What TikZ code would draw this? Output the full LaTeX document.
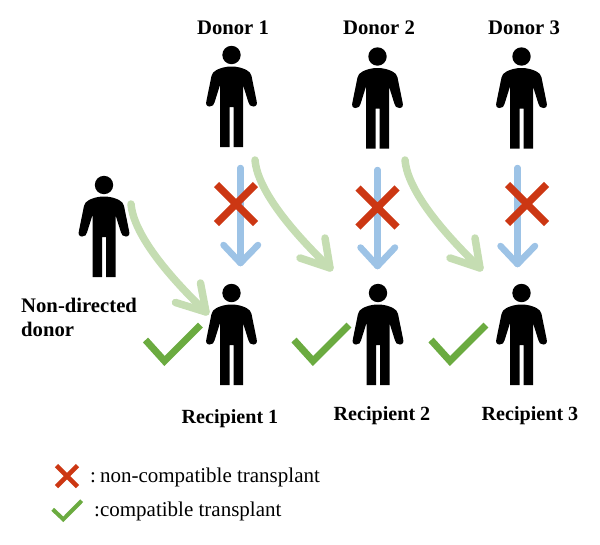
\documentclass[tikz,border=0pt]{standalone}
\usepackage{fontspec}
\setmainfont{Liberation Serif}
\definecolor{crossred}{HTML}{CC3713}
\definecolor{tickgreen}{HTML}{6BAB40}
\definecolor{bluearrow}{HTML}{9DC3E6}
\definecolor{greenarrow}{HTML}{C5DDB2}
\tikzset{
  x=1pt,y=-1pt,
  pics/person/.style={code={
    \fill[black] (0,0) circle[radius=9.2];
    \fill[black] (0,11.5) .. controls (-6,11.5) and (-11,13) .. (-15,15)
      .. controls (-18,16.5) and (-19,18) .. (-20,21)
      -- (-25,45.5) .. controls (-26,49) and (-25,51.5) .. (-22,51.5)
      .. controls (-19,51.5) and (-17.5,50) .. (-17,47.5)
      -- (-11.5,30) -- (-11.5,92) -- (-2,92) -- (-2,52) -- (2,52) -- (2,92) -- (11.5,92) -- (11.5,30)
      -- (17,47.5) .. controls (17.5,50) and (19,51.5) .. (22,51.5)
      .. controls (25,51.5) and (26,49) .. (25,45.5)
      -- (20,21) .. controls (19,18) and (18,16.5) .. (15,15)
      .. controls (11,13) and (6,11.5) .. (0,11.5) -- cycle;
  }},
  pics/crossmark/.style={code={
    \draw[crossred,line width=7.2] (-19.5,-19.5) -- (19.5,19.5) (-19.5,19.5) -- (19.5,-19.5);
  }},
  pics/smallcross/.style={code={
    \draw[crossred,line width=4.6] (-10.5,-10.5) -- (10.5,10.5) (-10.5,10.5) -- (10.5,-10.5);
  }},
  pics/checkmark/.style={code={
    \draw[tickgreen,line width=7,miter limit=4] (-19,-1) -- (0,20) -- (36,-16);
  }},
  bluestem/.style={bluearrow,line width=6.5,line cap=round,line join=round},
  greenstem/.style={greenarrow,line width=7.5,line cap=round,line join=round},
  lab/.style={font=\fontsize{20.7}{24}\selectfont\bfseries,inner sep=0pt,align=left},
  reclab/.style={font=\fontsize{20.1}{24}\selectfont\bfseries,inner sep=0pt},
  legendtext/.style={font=\fontsize{21}{24}\selectfont,inner sep=0pt,anchor=west},
}
\begin{document}
\begin{tikzpicture}
\useasboundingbox (0,0) rectangle (600,544);
% people
\pic at (231.5,55) {person};
\pic at (377.5,56.5) {person};
\pic at (521.5,56.5) {person};
\pic at (104,185) {person};
\pic at (231.5,293) {person};
\pic at (378,293) {person};
\pic at (521.5,293) {person};
% coordinates
\coordinate (b1a) at (240.5,168); \coordinate (b1b) at (240.5,263);
\coordinate (b1l) at (223.5,245); \coordinate (b1r) at (258,245);
\coordinate (b2a) at (377.5,170); \coordinate (b2b) at (377.5,266);
\coordinate (b2l) at (360.5,247.5); \coordinate (b2r) at (395,247.5);
\coordinate (b3a) at (517.5,168); \coordinate (b3b) at (517.5,264);
\coordinate (b3l) at (500.5,246); \coordinate (b3r) at (535,246);
% blue arrows
\foreach \n in {1,2,3}{
  \draw[bluestem] (b\n a) -- (b\n b);
  \draw[bluestem] (b\n l) -- (b\n b) -- (b\n r);
}
% green arrows
\coordinate (g0a) at (131,204); \coordinate (g0b) at (206,312);
\coordinate (g0l) at (175.5,302.5); \coordinate (g0r) at (200.5,283);
\draw[greenstem] (g0a) .. controls (133,229) and (158,266) .. (g0b);
\draw[greenstem] (g0l) -- (g0b) -- (g0r);
\coordinate (g1a) at (255,160); \coordinate (g1b) at (330,268);
\coordinate (g1l) at (300,258); \coordinate (g1r) at (325,238);
\draw[greenstem] (g1a) .. controls (257,185) and (282,222) .. (g1b);
\draw[greenstem] (g1l) -- (g1b) -- (g1r);
\coordinate (g2a) at (405,160); \coordinate (g2b) at (480,268);
\coordinate (g2l) at (450,258); \coordinate (g2r) at (475,238);
\draw[greenstem] (g2a) .. controls (407,185) and (432,222) .. (g2b);
\draw[greenstem] (g2l) -- (g2b) -- (g2r);
% marks
\pic at (236,204) {crossmark};
\pic at (377.5,207.5) {crossmark};
\pic at (527,204) {crossmark};
\pic at (164.5,341) {checkmark};
\pic at (313,341) {checkmark};
\pic at (450,341) {checkmark};
% labels
\node[lab] (d1) at (233,28) {Donor 1};
\node[lab] (d2) at (379,28) {Donor 2};
\node[lab] (d3) at (524,28) {Donor 3};
\node[lab,anchor=north west] (nd) at (21,298) {Non-directed\\donor};
\node[reclab] (r1) at (230,419) {Recipient 1};
\node[reclab] (r2) at (382,416) {Recipient 2};
\node[reclab] (r3) at (530,416) {Recipient 3};
% legend
\pic at (67,476) {smallcross};
\draw[tickgreen,line width=4] (52.7,509.3) -- (63.3,519.3) -- (81.7,500.7);
\node[legendtext] (l1) at (90,477) {:\kern-3pt{} non-compatible transplant};
\node[legendtext] (l2) at (94,511) {:compatible transplant};
\end{tikzpicture}
\end{document}
